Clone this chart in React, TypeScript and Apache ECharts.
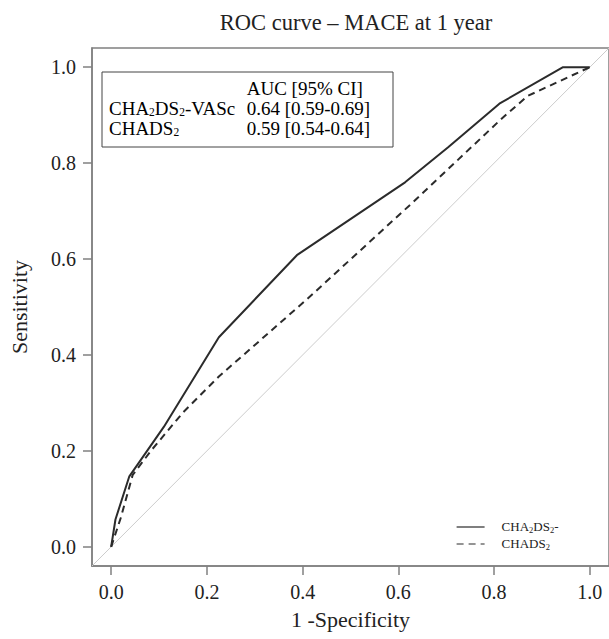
import React, { useEffect, useRef } from "react";
import * as echarts from "echarts";

// ROC curve points (1 - specificity, sensitivity)
const vascX = [0, 0.009, 0.038, 0.11, 0.225, 0.388, 0.614, 0.704, 0.811, 0.944, 1];
const vascY = [0, 0.057, 0.147, 0.25, 0.437, 0.608, 0.76, 0.833, 0.924, 1.0, 1];
const chadsX = [0, 0.02, 0.045, 0.083, 0.15, 0.225, 0.41, 0.63, 0.815, 0.87, 1];
const chadsY = [0, 0.06, 0.15, 0.2, 0.28, 0.355, 0.517, 0.718, 0.892, 0.94, 1];
const diagonal = [-0.04, 1.04];
const tickValues = [0, 0.2, 0.4, 0.6, 0.8, 1.0];
const seriesNames = ["CHA2DS2-VASc", "CHADS2"];
const aucRows = ["0.64 [0.59-0.69]", "0.59 [0.54-0.64]"];

const FONT = "'Liberation Serif', 'Times New Roman', serif";
const TEXT = "#222";
const AXIS = "#808080";
const LINE = "#2b2b2b";

export default function App() {
  const ref = useRef<HTMLDivElement>(null);
  useEffect(() => {
    if (!ref.current) return;
    const chart = echarts.init(ref.current, undefined, { renderer: "svg" });
    const pairs = (xs: number[], ys: number[]) => xs.map((x, i) => [x, ys[i]]);
    const bigRich = {
      m: { fontFamily: FONT, fontSize: 19, color: TEXT, lineHeight: 19, verticalAlign: "top" },
      s: { fontFamily: FONT, fontSize: 11.5, color: TEXT, lineHeight: 12, padding: [6, 0, 0, 0], verticalAlign: "bottom" },
    };
    const smallRich = {
      m: { fontFamily: FONT, fontSize: 13, color: TEXT, lineHeight: 14, verticalAlign: "top" },
      s: { fontFamily: FONT, fontSize: 8.5, color: TEXT, lineHeight: 14, padding: [5, 0, 0, 0], verticalAlign: "bottom" },
    };
    const axisCommon = {
      type: "value",
      min: -0.04,
      max: 1.04,
      nameLocation: "middle",
      nameTextStyle: { fontFamily: FONT, fontSize: 22, color: TEXT },
      axisLine: { show: true, onZero: false, lineStyle: { color: AXIS, width: 1.5 } },
      splitLine: { show: false },
      axisTick: { show: true, inside: false, length: 9, customValues: tickValues, lineStyle: { color: AXIS, width: 1.5 } },
    };
    const option: any = {
      animation: false,
      backgroundColor: "#fff",
      title: {
        text: "ROC curve – MACE at 1 year",
        left: 351,
        top: 6,
        textAlign: "center",
        textStyle: { fontFamily: FONT, fontSize: 22.5, fontWeight: "normal", color: TEXT },
      },
      grid: {
        left: 92,
        top: 48,
        width: 519,
        height: 518,
        show: true,
        borderColor: AXIS,
        borderWidth: 1.5,
        backgroundColor: "transparent",
      },
      xAxis: {
        ...axisCommon,
        name: "1 -Specificity",
        nameGap: 42,
        axisLabel: {
          customValues: tickValues,
          margin: 16,
          fontFamily: FONT,
          fontSize: 20,
          color: TEXT,
          formatter: (v: number) => v.toFixed(1),
        },
      },
      yAxis: {
        ...axisCommon,
        name: "Sensitivity",
        nameRotate: 90,
        nameGap: 62,
        axisLabel: {
          customValues: tickValues,
          margin: 16,
          fontFamily: FONT,
          fontSize: 20,
          color: TEXT,
          formatter: (v: number) => v.toFixed(1),
        },
      },
      legend: {
        data: seriesNames,
        orient: "vertical",
        left: 451,
        top: 515,
        itemWidth: 28,
        itemHeight: 14,
        itemGap: 3,
        itemStyle: { opacity: 0 },
        lineStyle: { width: 1.2 },
        textStyle: { padding: [0, 0, 0, 12], rich: smallRich },
        formatter: (name: string) =>
          name === "CHA2DS2-VASc" ? "{m|CHA}{s|2}{m|DS}{s|2}{m|-}" : "{m|CHADS}{s|2}",
      },
      series: [
        {
          name: "diagonal",
          type: "line",
          data: pairs(diagonal, diagonal),
          symbol: "none",
          silent: true,
          lineStyle: { color: "#cccccc", width: 1 },
          z: 1,
        },
        {
          name: seriesNames[0],
          type: "line",
          data: pairs(vascX, vascY),
          symbol: "none",
          lineStyle: { color: LINE, width: 2, type: "solid" },
          itemStyle: { color: LINE },
          z: 3,
        },
        {
          name: seriesNames[1],
          type: "line",
          data: pairs(chadsX, chadsY),
          symbol: "none",
          lineStyle: { color: LINE, width: 2, type: [7, 5] },
          itemStyle: { color: LINE },
          z: 2,
        },
      ],
      graphic: [
        {
          type: "rect",
          shape: { x: 102, y: 72, width: 291, height: 75 },
          style: { fill: "#fff", stroke: "#444", lineWidth: 1 },
          z: 10,
        },
        {
          type: "text",
          x: 246.7,
          y: 78.5,
          z: 11,
          style: { text: "{m|AUC [95% CI]}", rich: bigRich },
        },
        {
          type: "text",
          x: 109,
          y: 98.5,
          z: 11,
          style: { text: "{m|CHA}{s|2}{m|DS}{s|2}{m|-VASc}", rich: bigRich },
        },
        {
          type: "text",
          x: 246.7,
          y: 98.5,
          z: 11,
          style: { text: "{m|" + aucRows[0] + "}", rich: bigRich },
        },
        {
          type: "text",
          x: 109,
          y: 118.5,
          z: 11,
          style: { text: "{m|CHADS}{s|2}", rich: bigRich },
        },
        {
          type: "text",
          x: 246.7,
          y: 118.5,
          z: 11,
          style: { text: "{m|" + aucRows[1] + "}", rich: bigRich },
        },
      ],
    };
    chart.setOption(option);
    return () => chart.dispose();
  }, []);
  return (
    <div
      ref={ref}
      style={{ position: "fixed", left: 0, top: 0, width: 609, height: 639, background: "#fff" }}
    />
  );
}
